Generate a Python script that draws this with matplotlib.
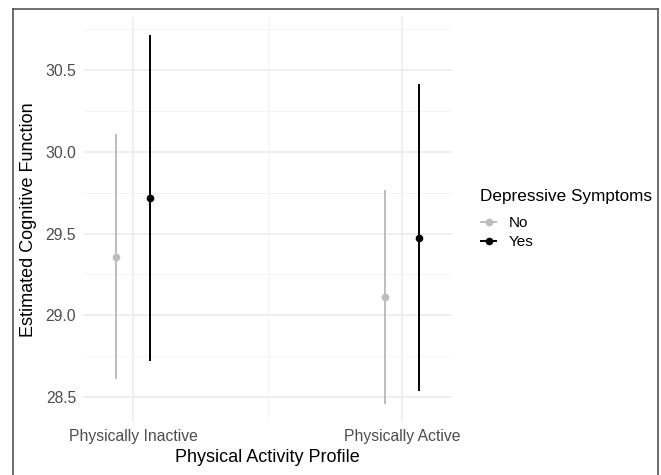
import matplotlib
matplotlib.use("Agg")
import matplotlib.pyplot as plt
from matplotlib.lines import Line2D

categories = ["Physically Inactive", "Physically Active"]
groups = ["No", "Yes"]
estimate = {"No": [29.36, 29.115], "Yes": [29.72, 29.475]}
lower = {"No": [28.61, 28.46], "Yes": [28.72, 28.535]}
upper = {"No": [30.11, 29.77], "Yes": [30.715, 30.415]}
yticks = [28.5, 29.0, 29.5, 30.0, 30.5]
colors = {"No": "#bdbdbd", "Yes": "#000000"}

plt.rcParams['font.family'] = ['Liberation Sans', 'DejaVu Sans']

fig = plt.figure(figsize=(6.61, 4.75), dpi=100)
W, H = 661, 475
ax = fig.add_axes([83 / W, 1 - 422 / H, (452 - 83) / W, (422 - 17) / H])

offsets = {"No": -0.0615, "Yes": 0.0615}
for g in groups:
    xs = [i + 1 + offsets[g] for i in range(len(categories))]
    for x, e, lo, hi in zip(xs, estimate[g], lower[g], upper[g]):
        ax.plot([x, x], [lo, hi], color=colors[g], lw=1.4, solid_capstyle='butt', zorder=3)
        ax.plot([x], [e], 'o', color=colors[g], ms=4.5, zorder=4)

ax.set_xlim(0.814, 2.186)
ax.set_ylim(28.347, 30.826)
ax.set_xticks([1, 2])
ax.set_xticklabels(categories)
ax.set_xticks([1.5], minor=True)
ax.set_yticks(yticks)
ax.set_yticklabels([f"{v:.1f}" for v in yticks])
ax.set_yticks([28.75, 29.25, 29.75, 30.25, 30.75], minor=True)

ax.grid(True, which='major', color='#ebebeb', lw=1.1, zorder=0)
ax.grid(True, which='minor', color='#f2f2f2', lw=0.6, zorder=0)
ax.set_axisbelow(True)
for s in ax.spines.values():
    s.set_visible(False)
ax.tick_params(which='both', length=0, labelsize=11.3, colors='#4d4d4d', pad=5)

ax.set_xlabel("Physical Activity Profile", fontsize=13, color='black', labelpad=4)
ax.set_ylabel("Estimated Cognitive Function", fontsize=13, color='black', labelpad=6)

fig.text(480 / W, 1 - 196 / H, "Depressive Symptoms", fontsize=12.3, color='black',
         ha='left', va='center')
handles = [Line2D([0], [0], color=colors[g], lw=1.4, marker='o', ms=4.5) for g in groups]
leg = fig.legend(handles, groups, loc='upper left',
                 bbox_to_anchor=(478 / W, 1 - 213 / H), frameon=False,
                 fontsize=11, handlelength=1.0,
                 handletextpad=0.8, labelspacing=0.35, borderaxespad=0, borderpad=0.2)

# outer border
fig.add_artist(Line2D([13 / W, 13 / W], [0, 1 - 9 / H], color='#555555', lw=1.2, transform=fig.transFigure))
fig.add_artist(Line2D([13 / W, 658 / W], [1 - 9 / H, 1 - 9 / H], color='#555555', lw=1.2, transform=fig.transFigure))
fig.add_artist(Line2D([658 / W, 658 / W], [0, 1 - 9 / H], color='#555555', lw=1.2, transform=fig.transFigure))

fig.savefig("out.png", dpi=100)
